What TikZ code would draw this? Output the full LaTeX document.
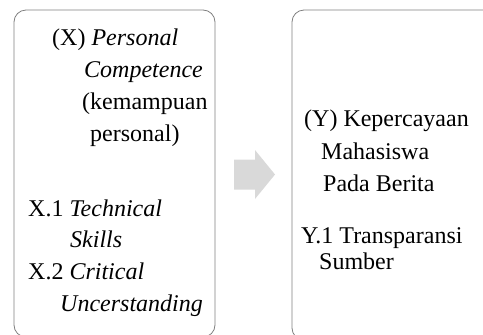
\documentclass[tikz,border=0pt]{standalone}
\usepackage{fontspec}
\setmainfont{Liberation Serif}
\definecolor{boxline}{HTML}{7F7F7F}
\definecolor{arrowfill}{HTML}{D9D9D9}

\tikzset{
    box/.style={draw=boxline, line width=0.8pt, rounded corners=12pt, inner sep=0pt},
    txt/.style={anchor=base west, inner sep=0pt, font=\fontsize{24}{29}\selectfont},
}

\begin{document}
\begin{tikzpicture}[x=1pt, y=-1pt]
    \useasboundingbox (0,0) rectangle (483,335);

    % Boxes
    \node[box, minimum width=201pt, minimum height=327pt] (leftbox) at (114.5,173.5) {};
    \node[box, minimum width=205pt, minimum height=330pt] (rightbox) at (394.5,175) {};

    % Block arrow between the boxes
    \coordinate (arrtip) at (275,174.5);
    \fill[arrowfill] (234,159.5) -- (255,159.5) -- (255,150) -- (arrtip)
        -- (255,199) -- (255,189.5) -- (234,189.5) -- cycle;

    % Left box - variable X
    \node[txt] (x1) at (52,45) {(X) \textit{Personal}};
    \node[txt] (x2) at (84,77) {\textit{Competence}};
    \node[txt] (x3) at (82,109) {(kemampuan};
    \node[txt] (x4) at (90,141) {personal)};
    \node[txt] (x5) at (28,216) {X.1 \textit{Technical}};
    \node[txt] (x6) at (70,247) {\textit{Skills}};
    \node[txt] (x7) at (28,279) {X.2 \textit{Critical}};
    \node[txt] (x8) at (60,311) {\textit{Uncerstanding}};

    % Right box - variable Y
    \node[txt] (y1) at (304,126) {(Y) Kepercayaan};
    \node[txt] (y2) at (321,159) {Mahasiswa};
    \node[txt] (y3) at (323,191) {Pada Berita};
    \node[txt] (y4) at (301,243) {Y.1 Transparansi};
    \node[txt] (y5) at (319,269) {Sumber};
\end{tikzpicture}
\end{document}
